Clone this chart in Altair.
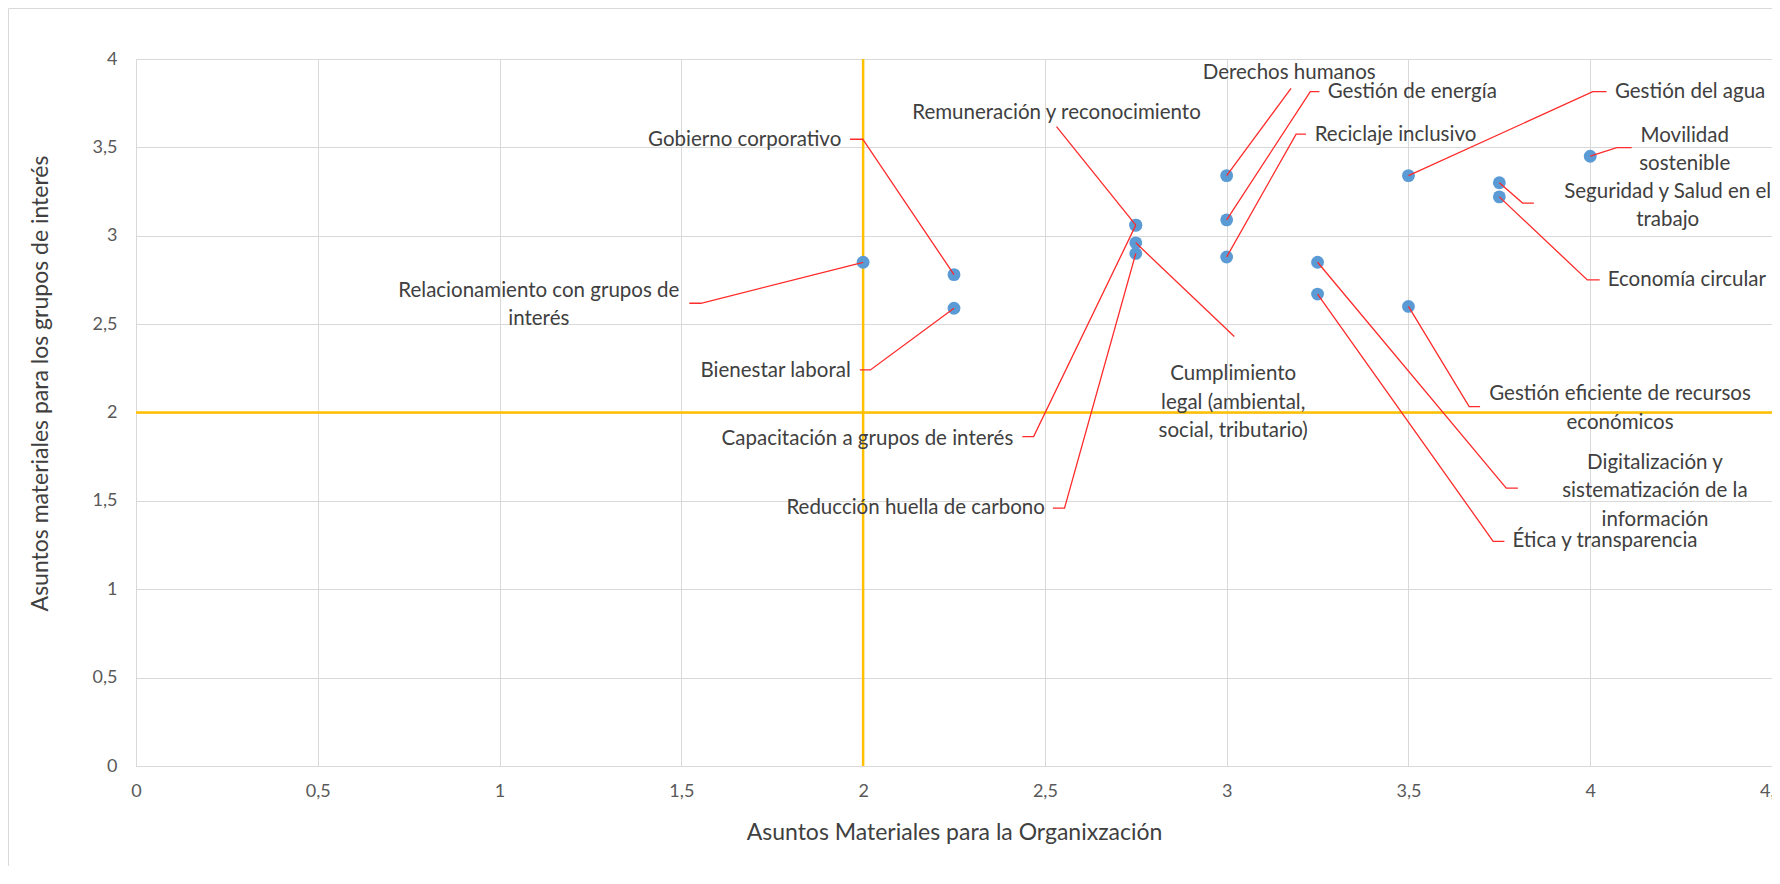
import altair as alt
import pandas as pd

FONT = "Lato"

# ---- data values ----
topics = [
    "Relacionamiento con grupos de interés",
    "Gobierno corporativo",
    "Bienestar laboral",
    "Remuneración y reconocimiento",
    "Capacitación a grupos de interés",
    "Cumplimiento legal (ambiental, social, tributario)",
    "Reducción huella de carbono",
    "Derechos humanos",
    "Gestión de energía",
    "Reciclaje inclusivo",
    "Digitalización y sistematización de la información",
    "Ética y transparencia",
    "Gestión del agua",
    "Gestión eficiente de recursos económicos",
    "Seguridad y Salud en el trabajo",
    "Economía circular",
    "Movilidad sostenible",
]
org_scores = [2.0, 2.25, 2.25, 2.75, 2.75, 2.75, 2.75, 3.0, 3.0, 3.0, 3.25, 3.25, 3.5, 3.5, 3.75, 3.75, 4.0]
stakeholder_scores = [2.85, 2.78, 2.59, 3.06, 3.06, 2.96, 2.90, 3.34, 3.09, 2.88, 2.85, 2.67, 3.34, 2.60, 3.30, 3.22, 3.45]

# ---- label layout (data-label placement as in the original) ----
label_lines = [
    ["Relacionamiento con grupos de", "interés"],
    ["Gobierno corporativo"],
    ["Bienestar laboral"],
    ["Remuneración y reconocimiento"],
    ["Capacitación a grupos de interés"],
    ["Cumplimiento", "legal (ambiental,", "social, tributario)"],
    ["Reducción huella de carbono"],
    ["Derechos humanos"],
    ["Gestión de energía"],
    ["Reciclaje inclusivo"],
    ["Digitalización y", "sistematización de la", "información"],
    ["Ética y transparencia"],
    ["Gestión del agua"],
    ["Gestión eficiente de recursos", "económicos"],
    ["Seguridad y Salud en el", "trabajo"],
    ["Economía circular"],
    ["Movilidad", "sostenible"],
]
label_x = [1.108, 1.940, 1.966, 2.532, 2.413, 3.018, 2.500, 3.172, 3.278, 3.242, 4.178, 3.786, 4.068, 4.082, 4.213, 4.048, 4.260]
label_y = [2.690, 3.540, 2.236, 3.696, 1.851, 2.215, 1.462, 3.923, 3.812, 3.572, 1.714, 1.271, 3.815, 2.103, 3.250, 2.750, 3.565]
label_align = ["center", "right", "right", "center", "right", "center", "right", "center", "left", "left",
               "center", "left", "left", "center", "center", "left", "center"]
line_step = 0.160

leader_x = [
    [1.554, 1.522], [1.999, 1.964], [2.020, 1.991], [2.532], [2.469, 2.438], [3.021], [2.554, 2.522],
    [3.177], [3.230, 3.255], [3.191, 3.218], [3.769, 3.801], [3.733, 3.764], [4.007, 4.045],
    [3.667, 3.697], [3.814, 3.845], [3.992, 4.026], [4.073, 4.114],
]
leader_y = [
    [2.618, 2.618], [3.546, 3.546], [2.241, 2.241], [3.617], [1.864, 1.864], [2.430], [1.459, 1.459],
    [3.834], [3.815, 3.815], [3.575, 3.575], [1.572, 1.572], [1.271, 1.271], [3.815, 3.815],
    [2.033, 2.033], [3.185, 3.185], [2.750, 2.750], [3.499, 3.499],
]

x_ticks = [0, 0.5, 1, 1.5, 2, 2.5, 3, 3.5, 4, 4.5]
y_ticks = [0, 0.5, 1, 1.5, 2, 2.5, 3, 3.5, 4]
threshold_x = [2]
threshold_y = [2]

# ---- tables ----
points_df = pd.DataFrame({"topic": topics, "x": org_scores, "y": stakeholder_scores})

rows = []
for i, t in enumerate(topics):
    rows.append({"topic": t, "order": 0, "x": org_scores[i], "y": stakeholder_scores[i]})
    for k, (lx, ly) in enumerate(zip(leader_x[i], leader_y[i])):
        rows.append({"topic": t, "order": k + 1, "x": lx, "y": ly})
leader_df = pd.DataFrame(rows)

trows = []
for i, lines in enumerate(label_lines):
    for j, line in enumerate(lines):
        trows.append({"text": line, "x": label_x[i], "y": label_y[i] - j * line_step, "align": label_align[i]})
text_df = pd.DataFrame(trows)

vline_df = pd.DataFrame({"x": threshold_x})
hline_df = pd.DataFrame({"y": threshold_y})

label_expr = "replace(toString(datum.value), '.', ',')"

x_axis = alt.Axis(
    values=x_ticks, labelExpr=label_expr, grid=True, gridColor="#D9D9D9", gridWidth=1,
    domainColor="#D9D9D9", ticks=False, tickSize=0, labelColor="#595959", labelFontSize=18,
    labelPadding=16, labelFlush=False, labelOverlap=False,
    title="Asuntos Materiales para la Organixzación", titleFontSize=23, titleColor="#404040",
    titleFontWeight="normal", titleY=66, titleBaseline="middle",
)
y_axis = alt.Axis(
    values=y_ticks, labelExpr=label_expr, grid=True, gridColor="#D9D9D9", gridWidth=1,
    domainColor="#D9D9D9", ticks=False, tickSize=0, labelColor="#595959", labelFontSize=18,
    labelPadding=19, labelOverlap=False,
    title="Asuntos materiales para los grupos de interés", titleFontSize=23, titleColor="#404040",
    titleFontWeight="normal", titleX=-96, titleY=324, titleAngle=270, titleAlign="center",
    titleBaseline="middle",
)

X = alt.X("x:Q", scale=alt.Scale(domain=[0, 4.5], nice=False, zero=False), axis=x_axis)
Y = alt.Y("y:Q", scale=alt.Scale(domain=[0, 4], nice=False, zero=False), axis=y_axis)

frame = alt.Chart(pd.DataFrame({"a": [0]})).mark_rect(
    fill=None, stroke="#D9D9D9", strokeWidth=1
).encode(x=alt.value(-127.5), x2=alt.value(1700), y=alt.value(-50.5), y2=alt.value(900))

vrule = alt.Chart(vline_df).mark_rule(color="#FFC000", strokeWidth=2.5).encode(x=X)
hrule = alt.Chart(hline_df).mark_rule(color="#FFC000", strokeWidth=2.5).encode(y=Y)

pts = alt.Chart(points_df).mark_circle(size=165, color="#5B9BD5", opacity=1).encode(x=X, y=Y)

leaders = alt.Chart(leader_df).mark_line(color="#FF2A2A", strokeWidth=1.3).encode(
    x=X, y=Y, detail="topic:N", order="order:Q"
)

texts = []
for a in ["left", "center", "right"]:
    texts.append(
        alt.Chart(text_df[text_df["align"] == a]).mark_text(
            align=a, baseline="middle", font=FONT, fontSize=20.5, color="#404040"
        ).encode(x=X, y=Y, text="text:N")
    )

chart = alt.layer(frame, vrule, hrule, pts, leaders, *texts).properties(
    width=1636, height=707,
    padding={"left": 128, "top": 51, "right": 0, "bottom": 100},
    autosize=alt.AutoSizeParams(type="none"),
).configure_view(stroke=None).configure_axis(labelFont=FONT, titleFont=FONT)

chart.save("out.html", embed_options={"renderer": "svg", "actions": False})
